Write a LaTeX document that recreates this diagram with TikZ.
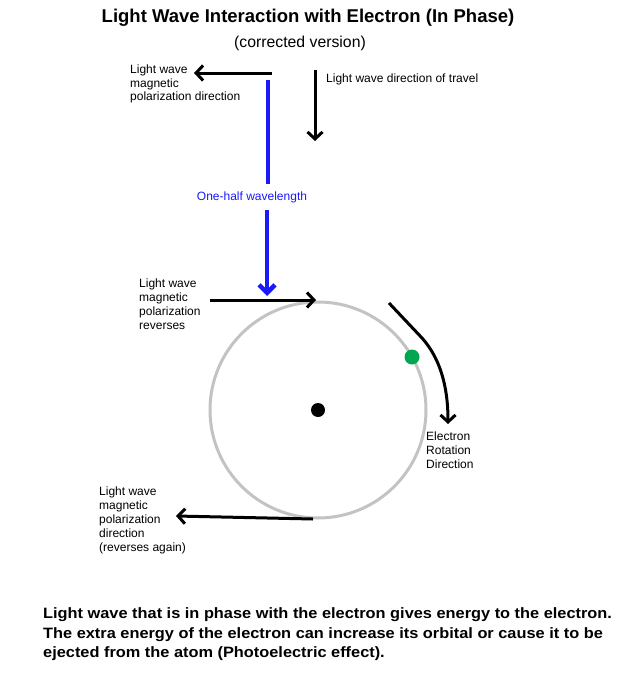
\documentclass[tikz,border=0pt]{standalone}
\usepackage{fontspec}
\setmainfont{Liberation Sans}
\usetikzlibrary{arrows.meta,positioning}

\definecolor{halfblue}{RGB}{25,25,250}
\definecolor{orbitgray}{RGB}{195,195,195}
\definecolor{electrongreen}{RGB}{0,166,81}

\begin{document}
\begin{tikzpicture}[x=1pt,y=-1pt,
  lbl/.style={font=\fontsize{12}{13.8}\selectfont,align=left,inner sep=0pt,anchor=north west},
  push/.style={line width=3pt,-{Straight Barb[length=7pt,width=15pt]}},
  halfline/.style={line width=4.5pt,halfblue}]
  \useasboundingbox (0,0) rectangle (617,685);
  % titel
  \node (title) at (308,18) {\fontsize{18.5}{20}\selectfont\bfseries Light Wave Interaction with Electron (In Phase)};
  \node (subtitle) at (300,43) {\fontsize{15.8}{18}\selectfont (corrected version)};
  % oben: Polarisation und Laufrichtung
  \coordinate (polA) at (272,73);
  \coordinate (polB) at (194,73);
  \draw[push] (polA) -- (polB);
  \node[lbl] (pollbl) at (130,64.5) {Light wave\\magnetic\\polarization direction};
  \coordinate (travA) at (315,70);
  \coordinate (travB) at (315,141);
  \draw[push] (travA) -- (travB);
  \node[lbl] (travlbl) at (326,73.5) {Light wave direction of travel};
  % halbe Wellenlaenge
  \node[halfblue,font=\fontsize{12}{14}\selectfont,inner xsep=0pt,inner ysep=7pt] (half) at (252,197) {One-half wavelength};
  \coordinate (halfA) at (268,80);
  \coordinate (halfB) at (267,296);
  \draw[halfline] (halfA) -- (halfA |- half.north);
  \draw[halfline,-{Straight Barb[length=8pt,width=16pt]}] (halfB |- half.south) -- (halfB);
  % Bahn des Elektrons
  \node[circle,fill,minimum size=14pt,inner sep=0pt] (nucleus) at (318,410) {};
  \draw[orbitgray,line width=3pt] (nucleus.center) circle [radius=108];
  \node[circle,fill=electrongreen,minimum size=15pt,inner sep=0pt] (electron) at (412,357) {};
  \coordinate (revA) at (210,300);
  \coordinate (revB) at (316,300);
  \draw[push] (revA) -- (revB);
  \node[lbl] (revlbl) at (139,279) {Light wave\\magnetic\\polarization\\reverses};
  \coordinate (rotA) at (389,303);
  \coordinate (rotM) at (422,338);
  \coordinate (rotB) at (448,424);
  \draw[push] (rotA) -- (rotM) .. controls (438,356) and (448,382) .. (rotB);
  \node[lbl] (rotlbl) at (426,432) {Electron\\Rotation\\Direction};
  \coordinate (backA) at (313,519);
  \coordinate (backB) at (176,516);
  \draw[push] (backA) -- (backB);
  \node[lbl] (backlbl) at (99,487) {Light wave\\magnetic\\polarization\\direction\\(reverses again)};
  % Erklaerung unten
  \node[anchor=north west,inner sep=0pt,font=\fontsize{15}{19.5}\selectfont\bfseries] (note) at (43,605)
    {\scalebox{1.09}[1]{\begin{tabular}{@{}l@{}}
     Light wave that is in phase with the electron gives energy to the electron.\\
     The extra energy of the electron can increase its orbital or cause it to be\\
     ejected from the atom (Photoelectric effect).\end{tabular}}};
\end{tikzpicture}
\end{document}
